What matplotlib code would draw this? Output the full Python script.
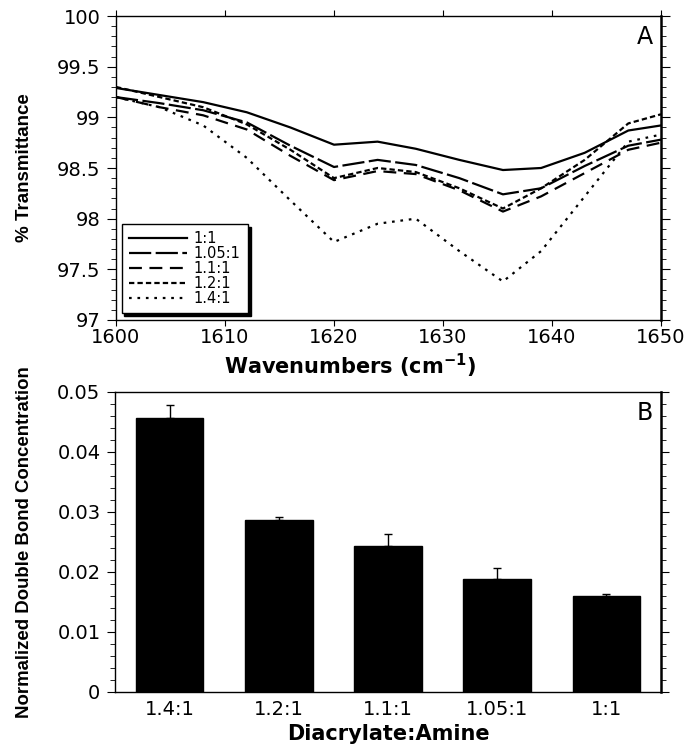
import numpy as np
import matplotlib
matplotlib.use("Agg")
import matplotlib.pyplot as plt
from matplotlib.ticker import MultipleLocator, FuncFormatter

# Panel A: IR spectra around the acrylate C=C band
wavenumber = [1600, 1604, 1608, 1612, 1616, 1620, 1624, 1627.5, 1631.5,
              1635.5, 1639, 1643, 1647, 1650]
t_1_1 = [99.29, 99.22, 99.15, 99.05, 98.90, 98.73, 98.76, 98.69, 98.58,
         98.48, 98.50, 98.65, 98.87, 98.92]
t_105_1 = [99.20, 99.14, 99.07, 98.95, 98.72, 98.51, 98.58, 98.53, 98.40,
           98.24, 98.30, 98.52, 98.72, 98.78]
t_11_1 = [99.20, 99.10, 99.02, 98.88, 98.62, 98.38, 98.47, 98.44, 98.28,
          98.07, 98.22, 98.45, 98.68, 98.75]
t_12_1 = [99.30, 99.20, 99.10, 98.93, 98.68, 98.40, 98.50, 98.46, 98.30,
          98.10, 98.30, 98.58, 98.94, 99.03]
t_14_1 = [99.20, 99.10, 98.92, 98.60, 98.18, 97.77, 97.95, 98.00, 97.68,
          97.38, 97.68, 98.22, 98.76, 98.83]
series_labels = ["1:1", "1.05:1", "1.1:1", "1.2:1", "1.4:1"]

# Panel B: normalized double bond concentration
ratios = ["1.4:1", "1.2:1", "1.1:1", "1.05:1", "1:1"]
conc = [0.0456, 0.0287, 0.0243, 0.0188, 0.0160]
conc_err = [0.0022, 0.0004, 0.0020, 0.0018, 0.0003]

fig = plt.figure(figsize=(7, 7.48), dpi=100)
ax1 = fig.add_axes([0.1657, 0.5722, 0.7786, 0.4064])
ax2 = fig.add_axes([0.1643, 0.0749, 0.78, 0.4011])

styles = [
    dict(linestyle="-"),
    dict(linestyle=(0, (10, 2))),
    dict(linestyle=(0, (5.8, 3.4))),
    dict(linestyle=(0, (2.4, 1.4))),
    dict(linestyle=(0, (1.2, 2.6))),
]
for ys, lab, st in zip([t_1_1, t_105_1, t_11_1, t_12_1, t_14_1],
                       series_labels, styles):
    ax1.plot(wavenumber, ys, color="k", lw=1.6, label=lab, **st)

ax1.set_xlim(1600, 1650)
ax1.set_ylim(97, 100)
ax1.xaxis.set_major_locator(MultipleLocator(10))
ax1.yaxis.set_major_locator(MultipleLocator(0.5))
ax1.yaxis.set_minor_locator(MultipleLocator(0.1))
ax1.yaxis.set_major_formatter(FuncFormatter(lambda v, p: "%g" % v))
ax1.tick_params(axis="x", which="major", direction="out", length=4.3,
                top=True, pad=1.5, labelsize=14)
ax1.tick_params(axis="y", which="major", direction="out", length=6.5,
                right=True, pad=4.5, labelsize=14)
ax1.tick_params(axis="y", which="minor", direction="out", length=3.8,
                right=True)
ax1.set_xlabel("Wavenumbers (cm$^{\\mathbf{-1}}$)", fontsize=15,
               fontweight="bold")
ax1.xaxis.set_label_coords(0.43, -0.105)
ax1.set_ylabel("% Transmittance", fontsize=13.5, fontweight="bold",
               family="Liberation Sans")
ax1.yaxis.set_label_coords(-0.152, 0.5)
ax1.text(0.985, 0.97, "A", transform=ax1.transAxes, ha="right", va="top",
         fontsize=17)

leg = ax1.legend(loc="lower left", bbox_to_anchor=(0.0105, 0.022),
                 borderaxespad=0, fontsize=10.5, handlelength=4.0,
                 handletextpad=0.45, labelspacing=0.0, borderpad=0.5,
                 fancybox=False, edgecolor="k", framealpha=1,
                 shadow={"facecolor": "k", "edgecolor": "k", "alpha": 1})
leg.get_frame().set_linewidth(1.0)

# bars with upper error bars only
x = np.arange(len(ratios))
ax2.bar(x, conc, width=0.62, color="k", edgecolor="k")
ax2.errorbar(x, conc, yerr=[np.zeros(len(conc)), conc_err], fmt="none",
             ecolor="k", elinewidth=1, capsize=3, capthick=1)
ax2.set_xlim(-0.5, 4.5)
ax2.set_ylim(0, 0.05)
ax2.set_xticks(x)
ax2.set_xticklabels(ratios)
ax2.yaxis.set_major_locator(MultipleLocator(0.01))
ax2.yaxis.set_minor_locator(MultipleLocator(0.002))
ax2.yaxis.set_major_formatter(FuncFormatter(lambda v, p: "%g" % round(v, 3)))
ax2.tick_params(axis="x", length=0, pad=6, labelsize=14)
ax2.tick_params(axis="y", which="major", direction="out", length=6,
                right=True, pad=4.5, labelsize=14)
ax2.tick_params(axis="y", which="minor", direction="out", length=3.6,
                right=True)
ax2.set_xlabel("Diacrylate:Amine", fontsize=15, fontweight="bold")
ax2.xaxis.set_label_coords(0.5, -0.107)
ax2.set_ylabel("Normalized Double Bond Concentration", fontsize=13.4,
               fontweight="bold", family="Liberation Sans")
ax2.yaxis.set_label_coords(-0.15, 0.5)
ax2.text(0.985, 0.97, "B", transform=ax2.transAxes, ha="right", va="top",
         fontsize=17)

for ax in (ax1, ax2):
    for sp in ax.spines.values():
        sp.set_linewidth(1.0)
    ax.spines["right"].set_linewidth(1.8)

fig.savefig("out.png", dpi=100)
